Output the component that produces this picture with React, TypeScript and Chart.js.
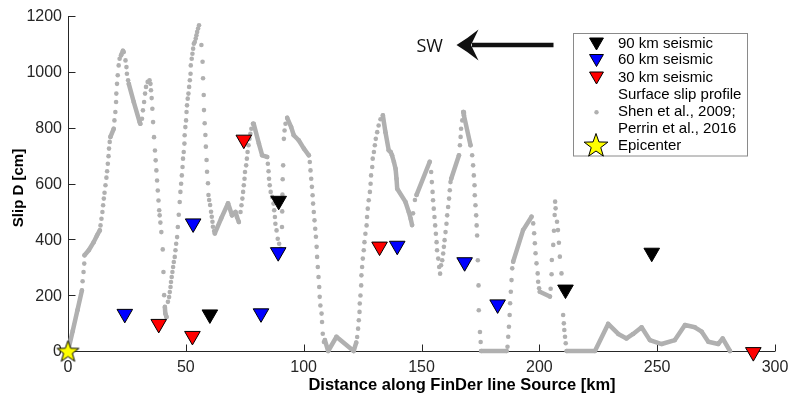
import React, { useEffect, useRef } from 'react';
import { Chart, registerables } from 'chart.js';
Chart.register(...registerables);

// ---------- data ----------
const xTicks = [0, 50, 100, 150, 200, 250, 300];
const yTicks = [0, 200, 400, 600, 800, 1000, 1200];

const seismic90Km = [60.2, 89.4, 211.1, 247.7];
const seismic90Cm = [131, 538, 220, 352];
const seismic60Km = [24.1, 53.1, 81.9, 89.2, 139.7, 168.3, 182.3];
const seismic60Cm = [133, 457, 135, 354, 377, 318, 167];
const seismic30Km = [38.5, 52.8, 74.6, 132.2, 290.8];
const seismic30Cm = [97, 54, 757, 374, -4];
const epicenterKm = [0];
const epicenterCm = [0];

// Surface slip profile (Shen et al., 2009; Perrin et al., 2016)
const profileKm = [
  0, 2.0, 4.0, 5.9, 6.2, 6.6, 6.9, 7.0, 8.8, 10.9, 12.3, 13.5, 13.8, 14.2, 14.6, 14.9, 15.2, 15.5, 15.9, 16.3,
  16.6, 16.9, 17.2, 17.4, 17.7, 18.0, 19.4, 19.7, 20.1, 20.4, 20.5, 20.8, 21.1, 21.5, 21.9, 22.5, 23.3, 23.6,
  24.4, 24.8, 25.0, 25.5, 25.8, 27.9, 30.4, 30.7, 31.4, 31.8, 32.3, 32.7, 33.1, 33.8, 34.6, 35.0, 35.2, 35.5,
  35.8, 36.1, 36.5, 36.9, 37.2, 37.5, 37.8, 38.1, 38.4, 38.7, 38.9, 39.2, 39.6, 40.2, 40.5, 40.8, 41.1, 41.3,
  41.8, 42.4, 42.9, 43.2, 43.5, 43.7, 44.0, 44.3, 44.6, 44.9, 45.3, 45.6, 45.9, 46.3, 46.6, 47.0, 47.4, 47.7,
  48.0, 48.3, 48.6, 48.8, 49.1, 49.4, 49.5, 49.8, 50.1, 50.3, 50.5, 50.8, 51.1, 51.4, 51.7, 52.0, 52.1, 52.5,
  52.8, 53.1, 53.4, 53.8, 54.2, 54.5, 54.8, 55.2, 55.6, 56.6, 57.1, 57.3, 57.6, 57.7, 58.0, 58.3, 58.5, 58.8,
  59.0, 59.4, 59.6, 59.9, 60.3, 60.7, 61.0, 61.3, 61.5, 62.0, 62.3, 65.0, 67.9, 69.6, 71.1, 71.7, 72.5, 73.2,
  73.6, 74.0, 74.3, 74.6, 74.9, 75.1, 75.6, 75.9, 76.2, 76.6, 77.0, 77.4, 77.8, 78.5, 78.8, 81.0, 82.4, 84.5,
  84.8, 85.1, 85.3, 85.6, 86.0, 86.6, 87.2, 87.5, 87.8, 88.0, 88.5, 89.0, 89.6, 90.2, 90.6, 90.8, 90.9, 91.0,
  91.1, 91.3, 91.6, 91.9, 92.3, 93.0, 94.7, 95.8, 97.9, 100.1, 102.2, 102.6, 102.9, 103.2, 103.5, 103.8, 104.0,
  104.3, 104.6, 104.9, 105.2, 105.5, 105.7, 106.0, 106.3, 106.6, 106.8, 107.1, 107.6, 107.8, 108.1, 108.6,
  109.0, 110.4, 113.9, 121.2, 122.3, 122.7, 123.1, 123.4, 123.7, 123.8, 124.1, 124.4, 124.5, 124.8, 125.1,
  125.5, 125.8, 126.2, 126.7, 126.9, 127.2, 127.6, 128.1, 128.4, 128.6, 129.1, 129.3, 129.8, 130.2, 130.6,
  131.2, 131.8, 132.6, 133.6, 134.7, 136.1, 136.9, 137.5, 138.3, 139.0, 139.4, 139.7, 143.2, 144.6, 145.4,
  146.0, 146.4, 147.2, 147.9, 153.5, 154.1, 154.4, 154.7, 154.9, 155.2, 155.5, 155.8, 156.1, 156.4, 156.6,
  157.1, 157.5, 157.9, 158.3, 158.8, 159.2, 159.5, 159.8, 160.2, 160.6, 160.9, 161.3, 161.7, 162.0, 162.3,
  162.6, 165.9, 166.3, 166.6, 166.8, 167.3, 167.7, 168.0, 170.8, 171.5, 171.9, 172.2, 172.5, 172.6, 172.9,
  173.2, 173.4, 173.6, 173.9, 174.2, 174.3, 174.8, 175.1, 175.3, 186.1, 186.5, 186.8, 187.1, 187.4, 187.6,
  187.9, 188.2, 188.5, 188.9, 193.1, 196.7, 197.4, 197.8, 198.1, 198.4, 198.8, 199.3, 199.5, 199.9, 200.2,
  204.5, 204.8, 205.2, 205.3, 205.9, 206.2, 206.5, 206.7, 206.9, 207.5, 207.9, 208.3, 208.7, 209.4, 209.9,
  210.1, 210.4, 210.6, 210.9, 211.2, 211.6, 223.6, 229.2, 233.5, 237.0, 239.8, 243.4, 246.9, 251.9, 257.5,
  261.8, 266.0, 268.9, 271.7, 275.9, 277.8, 280.9,
];
const profileCm = [
  0, 72, 146, 217, 250, 283, 313, 343, 361, 390, 414, 432, 450, 474, 498, 522, 546, 567, 594, 621,
  644, 671, 698, 725, 749, 767, 796, 826, 856, 892, 922, 957, 988, 1023, 1047, 1059, 1075, 1071,
  1041, 1017, 993, 970, 957, 892, 820, 814, 832, 862, 892, 922, 946, 964, 970, 957, 934, 906,
  868, 820, 766, 718, 683, 647, 611, 575, 539, 504, 486, 460, 426, 364, 283, 200, 158, 134,
  122, 176, 193, 211, 229, 247, 265, 283, 301, 319, 337, 361, 384, 408, 444, 488, 534, 570,
  599, 629, 659, 689, 713, 743, 773, 802, 826, 856, 880, 904, 922, 946, 970, 993, 1023, 1047,
  1065, 1083, 1101, 1107, 1119, 1131, 1143, 1155, 1167, 1096, 1036, 977, 917, 863, 816, 774, 732, 684,
  642, 601, 559, 541, 523, 499, 481, 463, 445, 430, 421, 475, 529, 486, 498, 480, 462, 498,
  522, 546, 570, 594, 617, 641, 665, 689, 713, 737, 760, 778, 796, 814, 814, 743, 701, 695,
  671, 644, 617, 594, 570, 552, 528, 504, 480, 456, 432, 402, 384, 366, 361, 444, 500, 560,
  615, 665, 760, 790, 814, 835, 802, 773, 755, 725, 701, 677, 647, 617, 588, 558, 528,
  498, 468, 438, 409, 373, 337, 301, 265, 229, 194, 163, 134, 104, 62, 32,
  39, 0, 51, 0, 30, 50, 80, 110, 140, 170, 199, 235, 271, 301, 331,
  361, 390, 420, 450, 480, 510, 540, 570, 599, 629, 659, 689, 713, 737, 760,
  784, 808, 830, 844, 784, 719, 713, 701, 677, 653, 617, 581, 534, 498, 474,
  451, 493, 541, 559, 678, 641, 605, 570, 540, 510, 480, 450, 420, 390, 361,
  331, 301, 277, 307, 325, 349, 373, 397, 426, 456, 486, 516, 546, 576, 605,
  617, 701, 737, 767, 796, 826, 856, 844, 737, 701, 665, 629, 594, 558, 522,
  486, 450, 414, 325, 235, 146, 68, 32, 0, 0, 15, 51, 87, 129, 171,
  212, 254, 296, 320, 433, 481, 457, 422, 386, 350, 314, 278, 248, 225, 212,
  195, 223, 275, 326, 380, 431, 487, 535, 511, 463, 433, 388, 338, 278, 218,
  129, 99, 75, 51, 28, 0, 0, 97, 61, 45, 61, 85, 39, 25, 39,
  93, 85, 69, 33, 25, 45, 0,
];
// stretches where the profile's samples are so dense that they read as a solid line
const solidRunsKm = [
  [0, 5.9], [7.0, 13.5], [18.0, 19.4], [22.5, 23.6], [25.8, 30.7], [41.1, 41.8], [62.3, 72.5],
  [78.5, 84.5], [93.0, 102.2], [109.0, 122.3], [133.6, 146.0], [147.9, 153.5], [162.6, 165.9],
  [167.7, 170.8], [175.3, 186.1], [188.9, 196.7], [200.2, 204.5], [211.6, 280.9],
];

const legendLabels = [
  '90 km seismic', '60 km seismic', '30 km seismic',
  'Surface slip profile', 'Shen et al., 2009;', 'Perrin et al., 2016', 'Epicenter',
];
const xTitle = 'Distance along FinDer line Source [km]';
const yTitle = 'Slip D [cm]';
const directionLabel = 'SW';

// ---------- styles ----------
const GRAY = 'rgb(176,176,176)';
const AXIS = '#262626';
const SANS = '"Liberation Sans", Arial, Helvetica, sans-serif';

function pts(xs: number[], ys: number[]) {
  return xs.map((x, i) => ({ x, y: ys[i] }));
}

function starPath(ctx: CanvasRenderingContext2D, cx: number, cy: number, R: number, r: number) {
  ctx.beginPath();
  for (let i = 0; i < 10; i++) {
    const rad = i % 2 === 0 ? R : r;
    const a = -Math.PI / 2 + (i * Math.PI) / 5;
    const px = cx + rad * Math.cos(a);
    const py = cy + rad * Math.sin(a);
    if (i === 0) ctx.moveTo(px, py);
    else ctx.lineTo(px, py);
  }
  ctx.closePath();
}

function drawStar(ctx: CanvasRenderingContext2D, cx: number, cy: number, R: number) {
  starPath(ctx, cx, cy, R, R * 0.4);
  ctx.fillStyle = '#ffff00';
  ctx.fill();
  ctx.lineWidth = 1;
  ctx.strokeStyle = '#000';
  ctx.stroke();
}

function makeStarImage(R: number) {
  const c = document.createElement('canvas');
  const s = Math.ceil(2 * R + 4);
  c.width = s;
  c.height = s;
  const g = c.getContext('2d')!;
  drawStar(g, s / 2, s / 2 + 1, R);
  return c;
}

function drawTriangle(ctx: CanvasRenderingContext2D, cx: number, cy: number, r: number, fill: string) {
  ctx.beginPath();
  let a = Math.PI;
  for (let i = 0; i < 3; i++) {
    const px = cx + Math.sin(a) * r;
    const py = cy - Math.cos(a) * r;
    if (i === 0) ctx.moveTo(px, py);
    else ctx.lineTo(px, py);
    a += (2 * Math.PI) / 3;
  }
  ctx.closePath();
  ctx.fillStyle = fill;
  ctx.fill();
  ctx.lineWidth = 1;
  ctx.strokeStyle = '#000';
  ctx.stroke();
}

const decorPlugin = {
  id: 'decor',
  beforeDatasetsDraw(chart: any) {
    const { ctx, chartArea, scales } = chart;
    const xs = scales.x;
    const ys = scales.y;
    ctx.save();
    ctx.strokeStyle = AXIS;
    ctx.lineWidth = 1;
    ctx.beginPath();
    const L = chartArea.left + 0.5;
    const B = chartArea.bottom + 0.5;
    ctx.moveTo(L, chartArea.top);
    ctx.lineTo(L, B);
    ctx.lineTo(chartArea.right, B);
    for (const v of xTicks) {
      const px = Math.round(xs.getPixelForValue(v)) + 0.5;
      ctx.moveTo(px, B);
      ctx.lineTo(px, B - 7);
    }
    for (const v of yTicks) {
      const py = Math.round(ys.getPixelForValue(v)) + 0.5;
      ctx.moveTo(L, py);
      ctx.lineTo(L + 7, py);
    }
    ctx.stroke();

    ctx.fillStyle = AXIS;
    ctx.font = `16px ${SANS}`;
    ctx.textBaseline = 'middle';
    ctx.textAlign = 'center';
    for (const v of xTicks) {
      ctx.fillText(String(v), xs.getPixelForValue(v), chartArea.bottom + 16.5);
    }
    ctx.textAlign = 'right';
    for (const v of yTicks) {
      ctx.fillText(String(v), chartArea.left - 6, ys.getPixelForValue(v) + 1);
    }

    ctx.font = `bold 16.5px ${SANS}`;
    ctx.textAlign = 'center';
    ctx.fillStyle = '#000';
    ctx.fillText(xTitle, 462, 385);

    ctx.save();
    ctx.translate(19, 188);
    ctx.rotate(-Math.PI / 2);
    ctx.font = `bold 15px ${SANS}`;
    ctx.fillText(yTitle, 0, 0);
    ctx.restore();
    ctx.restore();
  },
  afterDraw(chart: any) {
    const { ctx } = chart;
    ctx.save();
    // direction arrow
    ctx.fillStyle = '#111';
    ctx.strokeStyle = '#111';
    ctx.font = `18px "Open Sans", "DejaVu Sans", sans-serif`;
    ctx.textAlign = 'left';
    ctx.textBaseline = 'middle';
    ctx.fillText(directionLabel, 416.5, 46.5);
    ctx.lineWidth = 4.5;
    ctx.beginPath();
    ctx.moveTo(553.5, 45);
    ctx.lineTo(472, 45);
    ctx.stroke();
    ctx.beginPath();
    ctx.moveTo(456.5, 45);
    ctx.quadraticCurveTo(468, 38, 478.5, 29.5);
    ctx.lineTo(471, 45);
    ctx.lineTo(478.5, 60.5);
    ctx.quadraticCurveTo(468, 52, 456.5, 45);
    ctx.closePath();
    ctx.fill();

    // legend
    const bx = 573.5, by = 33.5, bw = 174, bh = 122.5;
    ctx.fillStyle = '#fff';
    ctx.fillRect(bx, by, bw, bh);
    ctx.strokeStyle = '#8a8a8a';
    ctx.lineWidth = 1;
    ctx.strokeRect(bx, by, bw, bh);
    const rows = [43.5, 60, 77.5, 95, 112.3, 129.3, 145.5];
    const mx = 596.5;
    drawTriangle(ctx, mx, rows[0] - 1.5, 8, '#000');
    drawTriangle(ctx, mx, rows[1] - 1.5, 8, '#0000ff');
    drawTriangle(ctx, mx, rows[2] - 1.5, 8, '#ff0000');
    ctx.beginPath();
    ctx.arc(mx, rows[4], 2.2, 0, Math.PI * 2);
    ctx.fillStyle = GRAY;
    ctx.fill();
    drawStar(ctx, mx - 0.5, rows[6] + 0.5, 12.5);
    ctx.fillStyle = '#000';
    ctx.font = `15px ${SANS}`;
    ctx.textAlign = 'left';
    ctx.textBaseline = 'middle';
    legendLabels.forEach((t, i) => ctx.fillText(t, 618, rows[i]));
    ctx.restore();
  },
};

export default function App() {
  const ref = useRef<HTMLCanvasElement | null>(null);
  useEffect(() => {
    document.body.style.margin = '0';
    const canvas = ref.current!;
    const starImg = makeStarImage(11.5);
    const inRun = (a: number, b: number) =>
      solidRunsKm.some(([s, e]) => a >= s - 1e-6 && a <= e + 1e-6 && b >= s - 1e-6 && b <= e + 1e-6);
    const tri = (xs: number[], ys: number[], color: string, label: string) => ({
      type: 'scatter' as const,
      label,
      data: pts(xs, ys),
      pointStyle: 'triangle',
      rotation: 180,
      pointRadius: 9,
      pointBackgroundColor: color,
      pointBorderColor: '#000',
      pointBorderWidth: 1,
      showLine: false,
      clip: false,
      order: 1,
    });
    const chart = new Chart(canvas, {
      type: 'scatter',
      data: {
        datasets: [
          {
            type: 'scatter',
            label: 'Epicenter',
            data: pts(epicenterKm, epicenterCm),
            pointStyle: starImg,
            pointRadius: 12,
            showLine: false,
            clip: false,
            order: 0,
          } as any,
          tri(seismic90Km, seismic90Cm, '#000000', '90 km seismic'),
          tri(seismic60Km, seismic60Cm, '#0000ff', '60 km seismic'),
          tri(seismic30Km, seismic30Cm, '#ff0000', '30 km seismic'),
          {
            type: 'line',
            label: 'Surface slip profile',
            data: pts(profileKm, profileCm),
            showLine: true,
            borderColor: GRAY,
            borderWidth: 4.5,
            borderCapStyle: 'round',
            borderJoinStyle: 'round',
            tension: 0,
            pointRadius: 2.3,
            pointBackgroundColor: GRAY,
            pointBorderWidth: 0,
            pointBorderColor: GRAY,
            clip: false,
            order: 5,
            segment: {
              borderColor: (c: any) =>
                inRun(profileKm[c.p0DataIndex], profileKm[c.p1DataIndex]) ? GRAY : 'rgba(0,0,0,0)',
            },
          } as any,
        ],
      },
      options: {
        responsive: false,
        animation: false,
        events: [],
        layout: { padding: { left: 68, top: 16, right: 16, bottom: 46 } },
        scales: {
          x: { type: 'linear', min: 0, max: 300, display: false },
          y: { type: 'linear', min: 0, max: 1200, display: false },
        },
        plugins: { legend: { display: false }, tooltip: { enabled: false } },
      },
      plugins: [decorPlugin],
    });
    return () => chart.destroy();
  }, []);
  return <canvas ref={ref} width={791} height={397} style={{ display: 'block' }} />;
}
